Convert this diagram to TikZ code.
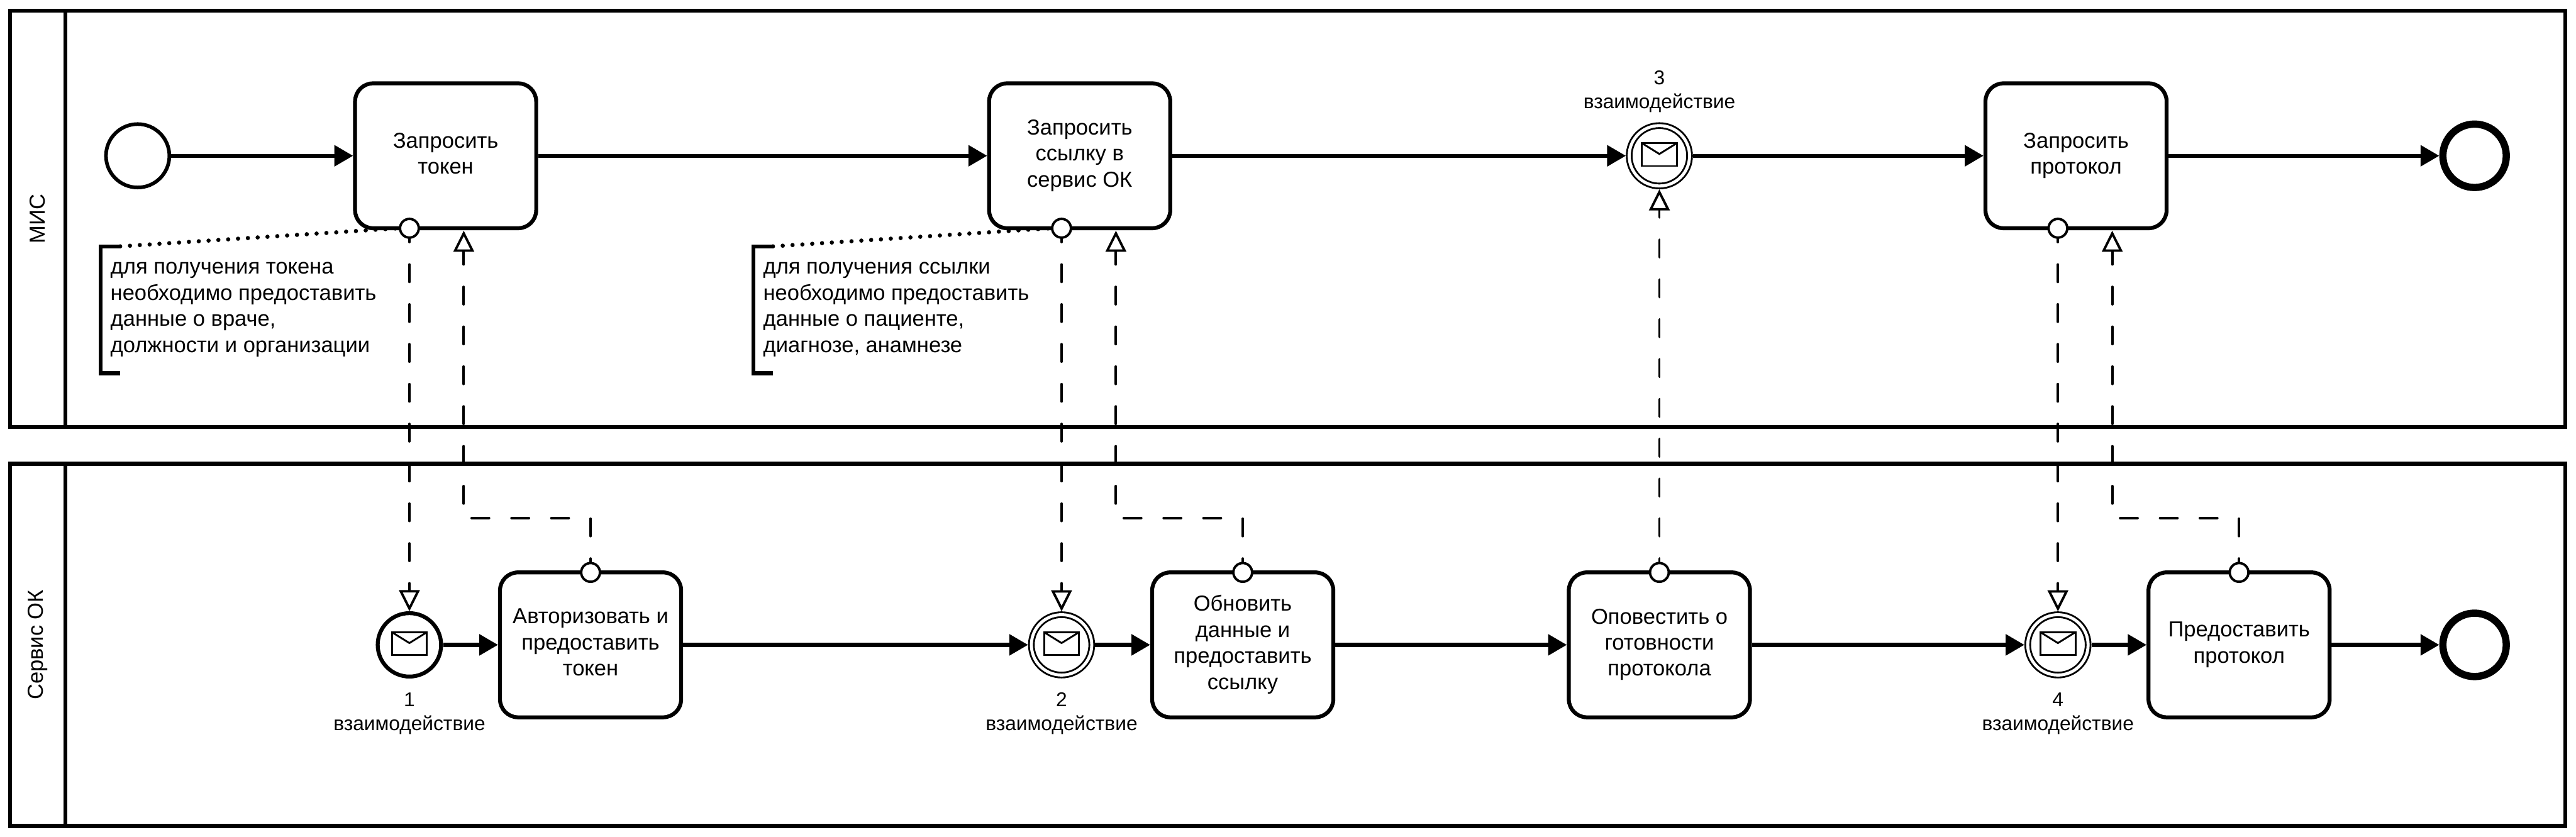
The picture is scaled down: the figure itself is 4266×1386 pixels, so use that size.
\documentclass[tikz,border=0pt]{standalone}
\usepackage{fontspec}
\setmainfont{Liberation Sans}
\usetikzlibrary{arrows.meta, calc, backgrounds}
\newcommand{\taskstrut}{\rule[-2.4pt]{0pt}{12.29pt}}
\newcommand{\notestrut}{\rule[-2.27pt]{0pt}{12.29pt}}
\tikzset{
  every node/.style = {font=\fontsize{10.24pt}{12.29pt}\selectfont},
  lane n/.style   = {rectangle, draw, line width=.65mm, minimum width=423.1mm},
  head n/.style   = {rectangle, draw, line width=.65mm, rotate=90, minimum height=9.1mm},
  task n/.style   = {rectangle, rounded corners=3mm, draw, fill=white, line width=.65mm,
                     minimum width=30mm, minimum height=24mm, align=center, inner sep=0pt,
                     execute at begin node=\taskstrut, execute at end node=\taskstrut},
  event n/.style  = {circle, draw, fill=white, line width=.6mm, minimum size=10.5mm, inner sep=0pt},
  event msg/.style  = {event n, line width=.65mm},
  event ring/.style = {circle, draw, fill=white, line width=.3mm, double, double distance=.5mm,
                       minimum size=10mm, inner sep=0pt, outer sep=.55mm},
  event end/.style  = {event n, line width=1.2mm},
  port n/.style   = {circle, draw, fill=white, line width=.4mm, minimum size=3.1mm, inner sep=0pt},
  event label/.style = {align=center, inner sep=0pt, font=\fontsize{9.39pt}{11.27pt}\selectfont,
                        execute at begin node=\strut, execute at end node=\strut},
  note n/.style   = {anchor=west, align=left, inner xsep=1.6mm, inner ysep=0pt,
                     outer sep=0pt, minimum height=21mm,
                     execute at begin node=\notestrut, execute at end node=\notestrut},
  mail/.style     = {line width=.3mm, line join=miter},
  edge flow/.style = {-{Triangle[length=3.1mm, width=3.4mm]}, line width=.65mm},
  edge msg/.style  = {-{Triangle[fill=white, length=3.5mm, width=3.4mm]}, line width=.4mm,
                      line cap=round, dash pattern=on 2.9mm off 3.7mm, dash phase=.6mm},
  edge assoc/.style = {line width=.7mm, line cap=round, dash pattern=on 0mm off 1.63mm},
  edge bracket/.style = {line width=.65mm},
}

\begin{document}
\begin{tikzpicture}[x=.1mm, y=-.1mm]
\useasboundingbox (0,0) rectangle (4266,1386);

% Lanes
\node[lane n, minimum height=68.9mm] (lane1) at (2132.5, 362.5) {};
\node[head n, minimum width=68.9mm]  (head1) at (62.5, 362.5)   {МИС};
\node[lane n, minimum height=60mm]   (lane2) at (2132.5, 1068)  {};
\node[head n, minimum width=60mm]    (head2) at (62.5, 1068)    {Сервис ОК};

% Upper lane
\node[event n]   (start)    at (228, 258)  {};
\node[task n]    (token)    at (738, 258)  {Запросить\\токен};
\node[task n]    (link)     at (1788, 258) {Запросить\\ссылку в\\сервис ОК};
\node[event ring] (ev3)     at (2748, 258) {};
\node[task n]    (protocol) at (3438, 258) {Запросить\\протокол};
\node[event end] (finish1)  at (4098, 258) {};
\node[event label] (lab3)   at (2748, 154) {3\\взаимодействие};

% Lower lane
\node[event msg]  (ev1)     at (678, 1068)  {};
\node[task n]     (auth)    at (978, 1068)  {Авторизовать и\\предоставить\\токен};
\node[event ring] (ev2)     at (1758, 1068) {};
\node[task n]     (update)  at (2058, 1068) {Обновить\\данные и\\предоставить\\ссылку};
\node[task n]     (notify)  at (2748, 1068) {Оповестить о\\готовности\\протокола};
\node[event ring] (ev4)     at (3408, 1068) {};
\node[task n]     (give)    at (3708, 1068) {Предоставить\\протокол};
\node[event end]  (finish2) at (4098, 1068) {};
\node[event label] (lab1)   at (678, 1184)  {1\\взаимодействие};
\node[event label] (lab2)   at (1758, 1184) {2\\взаимодействие};
\node[event label] (lab4)   at (3408, 1184) {4\\взаимодействие};

% Ports on the task borders
\node[port n] (ptoken)  at (678, 378)  {};
\node[port n] (plink)   at (1758, 378) {};
\node[port n] (pprot)   at (3408, 378) {};
\node[port n] (pauth)   at (978, 948)  {};
\node[port n] (pupdate) at (2058, 948) {};
\node[port n] (pnotify) at (2748, 948) {};
\node[port n] (pgive)   at (3708, 948) {};

% Free ends of the returning message flows
\coordinate (intoken) at (768, 382);
\coordinate (inlink)  at (1848, 382);
\coordinate (inprot)  at (3498, 382);

% Sequence flows
\draw[edge flow] (start) -- (token);
\draw[edge flow] (token) -- (link);
\draw[edge flow] (link) -- (ev3);
\draw[edge flow] (ev3) -- (protocol);
\draw[edge flow] (protocol) -- (finish1);
\draw[edge flow] (ev1) -- (auth);
\draw[edge flow] (auth) -- (ev2);
\draw[edge flow] (ev2) -- (update);
\draw[edge flow] (update) -- (notify);
\draw[edge flow] (notify) -- (ev4);
\draw[edge flow] (ev4) -- (give);
\draw[edge flow] (give) -- (finish2);

% Message flows, behind the ports
\begin{scope}[on background layer]
  \draw[edge msg] (ptoken.center) -- (ev1.north);
  \draw[edge msg] (plink.center) -- (ev2.north);
  \draw[edge msg] (pprot.center) -- (ev4.north);
  \draw[edge msg] (pnotify.center) -- (ev3.south);
  \draw[edge msg] (pauth.center) -- ++(0,-90) -| (intoken);
  \draw[edge msg] (pupdate.center) -- ++(0,-90) -| (inlink);
  \draw[edge msg] (pgive.center) -- ++(0,-90) -| (inprot);
\end{scope}

% Envelopes
\foreach \ev in {ev1, ev2, ev3, ev4} {
  \draw[mail] ($(\ev)+(-29,-21)$) rectangle ($(\ev)+(29,17)$);
  \draw[mail] ($(\ev)+(-29,-21)$) -- ($(\ev)+(0,-3)$) -- ($(\ev)+(29,-21)$);
}

% Notes
\node[note n] (note1) at (167, 513)  {для получения токена\\необходимо предоставить\\данные о враче,\\должности и организации};
\node[note n] (note2) at (1248, 513) {для получения ссылки\\необходимо предоставить\\данные о пациенте,\\диагнозе, анамнезе};
\foreach \nt/\pt in {note1/ptoken, note2/plink} {
  \draw[edge bracket] ($(\nt.north west)+(32,0)$) -- (\nt.north west) -- (\nt.south west) -- ($(\nt.south west)+(32,0)$);
  \draw[edge assoc] ($(\nt.north west)+(32,0)$) -- (\pt.west);
}

\end{tikzpicture}
\end{document}
